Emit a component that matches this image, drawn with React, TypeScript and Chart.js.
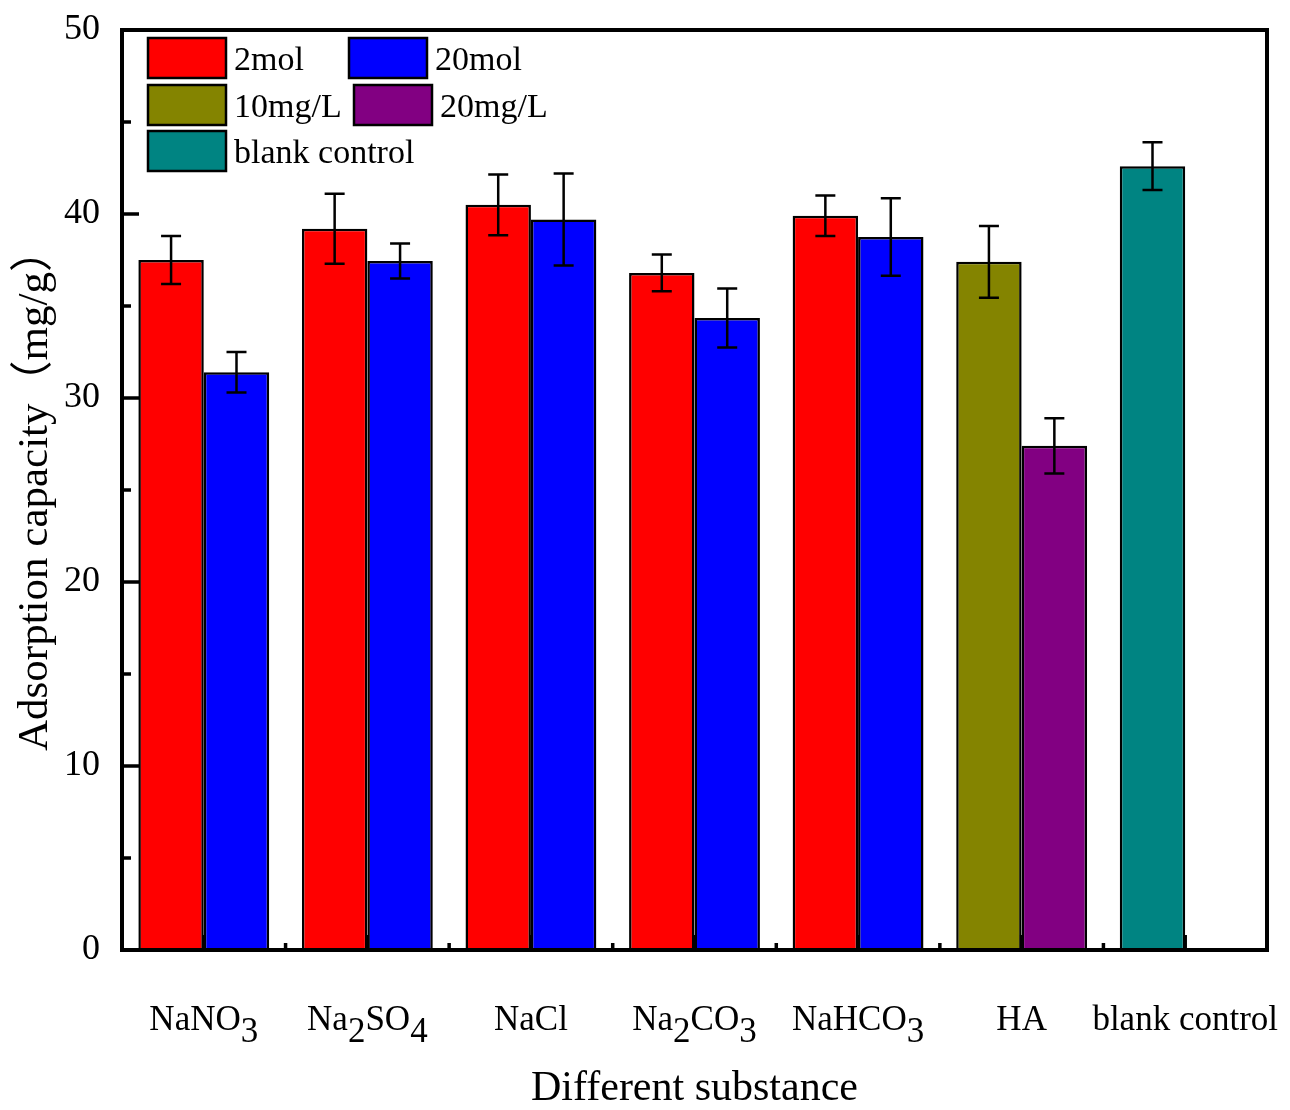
import React, { useEffect, useRef } from 'react';
import { Chart, registerables } from 'chart.js';

Chart.register(...registerables);

// ---- data ----
const categories = ['NaNO₃', 'Na₂SO₄', 'NaCl', 'Na₂CO₃', 'NaHCO₃', 'HA', 'blank control'];
const salt2mol = [37.5, 39.2, 40.5, 36.8, 39.9];
const salt2molErr = [1.3, 1.9, 1.65, 1.0, 1.1];
const salt20mol = [31.4, 37.45, 39.7, 34.35, 38.75];
const salt20molErr = [1.1, 0.95, 2.5, 1.6, 2.1];
const ha10 = [37.4];
const ha10Err = [1.95];
const ha20 = [27.4];
const ha20Err = [1.5];
const blankControl = [42.6];
const blankControlErr = [1.3];
const legendLabels = ['2mol', '20mol', '10mg/L', '20mg/L', 'blank control'];
const yTickValues = [0, 10, 20, 30, 40, 50];

// ---- styles ----
const RED = '#FF0000';
const BLUE = '#0000FF';
const OLIVE = '#848400';
const PURPLE = '#820082';
const TEAL = '#008482';
const legendColors = [RED, BLUE, OLIVE, PURPLE, TEAL];
const FONT = "'Liberation Serif', 'Times New Roman', Times, serif";
const TITLE_FONT = "'Liberation Serif', 'Times New Roman', 'Noto Sans CJK SC', serif";
const SUB_DIGITS: Record<string, string> = {
  '₀': '0', '₁': '1', '₂': '2', '₃': '3', '₄': '4', '₅': '5', '₆': '6', '₇': '7', '₈': '8', '₉': '9',
};

const leftValues = [...salt2mol, ...ha10, ...blankControl];
const leftErrors = [...salt2molErr, ...ha10Err, ...blankControlErr];
const leftColors = [...salt2mol.map(() => RED), OLIVE, TEAL];
const rightValues = [...salt20mol, ...ha20, null];
const rightErrors = [...salt20molErr, ...ha20Err, null];
const rightColors = [...salt20mol.map(() => BLUE), PURPLE, 'rgba(0,0,0,0)'];

// legend layout (canvas px): [x, y] of swatches
const legendPos = [
  [140, 30], [341, 30],
  [140, 77], [346, 77],
  [140, 123],
];

const CANVAS_W = 1274;
const CANVAS_H = 1102;

function splitLabel(label: string) {
  const segs: { text: string; sub: boolean }[] = [];
  for (const ch of label) {
    const sub = ch in SUB_DIGITS;
    const c = sub ? SUB_DIGITS[ch] : ch;
    const last = segs[segs.length - 1];
    if (last && last.sub === sub) last.text += c;
    else segs.push({ text: c, sub });
  }
  return segs;
}

const overlay = {
  id: 'overlay',
  afterDatasetsDraw(chart: any) {
    const { ctx, chartArea: a, scales } = chart;
    const x = scales.x;
    const y = scales.y;
    ctx.save();
    // error bars
    ctx.strokeStyle = '#000';
    ctx.lineWidth = 2.5;
    chart.data.datasets.forEach((ds: any, di: number) => {
      const meta = chart.getDatasetMeta(di);
      ds.data.forEach((v: number | null, i: number) => {
        const e = ds.errors[i];
        if (v == null || e == null) return;
        const px = meta.data[i].x;
        const t = y.getPixelForValue(v + e);
        const b = y.getPixelForValue(v - e);
        ctx.beginPath();
        ctx.moveTo(px, t); ctx.lineTo(px, b);
        ctx.moveTo(px - 10, t); ctx.lineTo(px + 10, t);
        ctx.moveTo(px - 10, b); ctx.lineTo(px + 10, b);
        ctx.stroke();
      });
    });
    // frame
    ctx.lineWidth = 4;
    ctx.strokeRect(a.left, a.top, a.right - a.left, a.bottom - a.top);
    // y ticks (inward)
    ctx.lineWidth = 3.5;
    ctx.beginPath();
    yTickValues.forEach((v, i) => {
      const py = y.getPixelForValue(v);
      ctx.moveTo(a.left, py); ctx.lineTo(a.left + 17, py);
      if (i < yTickValues.length - 1) {
        const pm = y.getPixelForValue((v + yTickValues[i + 1]) / 2);
        ctx.moveTo(a.left, pm); ctx.lineTo(a.left + 9, pm);
      }
    });
    // x ticks (inward)
    categories.forEach((_, i) => {
      const px = x.getPixelForValue(i);
      ctx.moveTo(px, a.bottom); ctx.lineTo(px, a.bottom - 15);
      if (i < categories.length - 1) {
        const pb = (px + x.getPixelForValue(i + 1)) / 2;
        ctx.moveTo(pb, a.bottom); ctx.lineTo(pb, a.bottom - 7);
      }
    });
    ctx.stroke();

    // x category labels with subscripts
    ctx.font = `35px ${FONT}`;
    ctx.textAlign = 'left';
    ctx.textBaseline = 'alphabetic';
    ctx.fillStyle = '#000';
    categories.forEach((lab, i) => {
      const segs = splitLabel(lab);
      const widths = segs.map((s) => ctx.measureText(s.text).width);
      const total = widths.reduce((p, c) => p + c, 0);
      let cx = x.getPixelForValue(i) - total / 2;
      const base = a.bottom + 80;
      segs.forEach((s, k) => {
        ctx.fillText(s.text, cx, s.sub ? base + 12 : base);
        cx += widths[k];
      });
    });

    // legend
    ctx.font = `34px ${FONT}`;
    legendLabels.forEach((lab, i) => {
      const [lx, ly] = legendPos[i];
      ctx.fillStyle = legendColors[i];
      ctx.fillRect(lx, ly, 78, 40);
      ctx.lineWidth = 2.5;
      ctx.strokeStyle = '#000';
      ctx.strokeRect(lx, ly, 78, 40);
      ctx.fillStyle = '#000';
      ctx.fillText(lab, lx + 86, ly + 31.5);
    });
    ctx.restore();
  },
};

export default function App() {
  const ref = useRef<HTMLCanvasElement>(null);
  useEffect(() => {
    const chart = new Chart(ref.current as HTMLCanvasElement, {
      type: 'bar',
      data: {
        labels: categories,
        datasets: [
          {
            label: '2mol / 10mg/L / blank control',
            data: leftValues,
            errors: leftErrors,
            backgroundColor: leftColors,
            borderColor: '#000',
            borderWidth: 2.5,
            categoryPercentage: 0.8,
            barPercentage: 1.0,
          } as any,
          {
            label: '20mol / 20mg/L',
            data: rightValues,
            errors: rightErrors,
            backgroundColor: rightColors,
            borderColor: '#000',
            borderWidth: 2.5,
            categoryPercentage: 0.8,
            barPercentage: 1.0,
          } as any,
        ],
      },
      options: {
        responsive: false,
        animation: false,
        devicePixelRatio: 1,
        layout: { padding: { top: 22, right: 15, bottom: 0, left: 0 } },
        plugins: { legend: { display: false }, tooltip: { enabled: false } },
        scales: {
          x: {
            type: 'category',
            offset: true,
            grid: { display: false, drawTicks: false },
            border: { display: false },
            ticks: {
              // labels are drawn by the overlay plugin (with real subscripts)
              color: 'rgba(0,0,0,0)',
              font: { family: FONT, size: 35 },
              padding: 46,
              maxRotation: 0,
              autoSkip: false,
            },
            title: {
              display: true,
              text: 'Different substance',
              color: '#000',
              font: { family: FONT, size: 42, lineHeight: 1 },
              padding: { top: 0, bottom: 0 },
            },
            afterFit: (s: any) => {
              s.height = CANVAS_H - 942;
              s.paddingLeft = 0;
              s.paddingRight = 0;
            },
          },
          y: {
            min: 0,
            max: 50,
            grid: { display: false, drawTicks: false },
            border: { display: false },
            ticks: {
              stepSize: 10,
              color: '#000',
              font: { family: FONT, size: 36 },
              padding: 22,
            },
            title: {
              display: true,
              text: 'Adsorption capacity（mg/g）',
              color: '#000',
              font: { family: TITLE_FONT, size: 43 },
              padding: { top: 2, bottom: 0 },
            },
            afterFit: (s: any) => {
              s.width = 114;
              s.paddingTop = 0;
              s.paddingBottom = 0;
            },
          },
        },
      } as any,
      plugins: [overlay],
    });
    return () => chart.destroy();
  }, []);
  return (
    <div style={{ width: CANVAS_W, height: CANVAS_H, marginBottom: -8 }}>
      <canvas ref={ref} width={CANVAS_W} height={CANVAS_H} style={{ display: 'block' }} />
    </div>
  );
}
